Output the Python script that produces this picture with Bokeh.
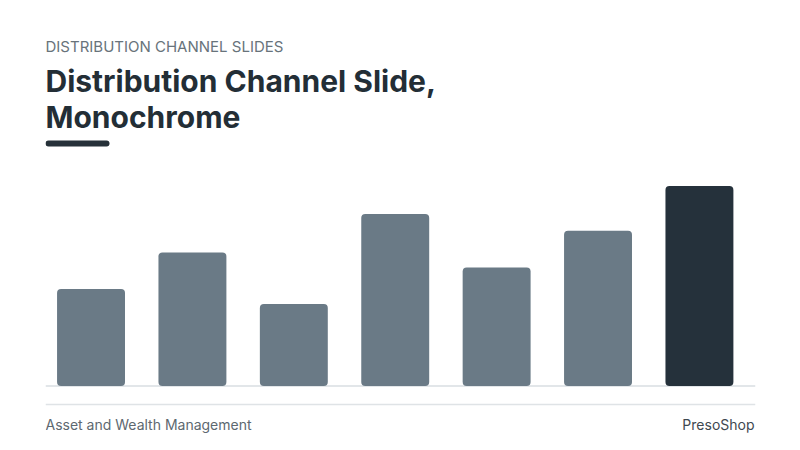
from bokeh.plotting import figure
from bokeh.models import Range1d, Label, Span, BoxAnnotation, ColumnDataSource
from bokeh.embed import file_html
from bokeh.resources import INLINE

# ---- data ----
categories = ["Channel 1", "Channel 2", "Channel 3", "Channel 4", "Channel 5", "Channel 6", "Channel 7"]
values = [48.5, 66.8, 41.0, 86.0, 59.3, 77.6, 100.0]
highlight = [False, False, False, False, False, False, True]

kicker = "DISTRIBUTION CHANNEL SLIDES"
title_lines = ["Distribution Channel Slide,", "Monochrome"]
footer_left = "Asset and Wealth Management"
footer_right = "PresoShop"

BAR = "#6a7a86"
BAR_HI = "#25313b"
colors = [BAR_HI if h else BAR for h in highlight]
xs = list(range(len(categories)))

src = ColumnDataSource(dict(x=xs, top=values, color=colors, cat=categories))

p = figure(width=784, height=434, output_backend="svg", toolbar_location=None,
           x_range=Range1d(-0.449, 6.553), y_range=Range1d(-24.25, 192.75),
           min_border_left=45, min_border_right=29, min_border_top=0, min_border_bottom=0,
           x_axis_location=None, y_axis_location=None)
p.outline_line_color = None
p.grid.visible = False
p.background_fill_color = "white"
p.border_fill_color = "white"

# baseline
p.add_layout(Span(location=0, dimension="width", line_color="#e2e6e9", line_width=2, level="underlay"))

# separator line above the footer
p.add_layout(BoxAnnotation(left=0, right=710, bottom=29.2, top=30.8,
                           left_units="screen", right_units="screen",
                           bottom_units="screen", top_units="screen",
                           fill_color="#dfe3e6", fill_alpha=1, line_color=None))

p.vbar(x="x", top="top", bottom=0, width=0.67, color="color", line_color=None,
       border_radius=4, source=src)

FONT = "Inter"
p.add_layout(Label(x=0, y=388, x_units="screen", y_units="screen", text=kicker,
                   text_font=FONT, text_font_size="15px", text_color="#68737b",
                   text_baseline="middle"))
p.add_layout(Label(x=0, y=353.5, x_units="screen", y_units="screen", text=title_lines[0],
                   text_font=FONT, text_font_size="30px", text_font_style="bold",
                   text_color="#232e36", text_baseline="middle"))
p.add_layout(Label(x=0, y=317.7, x_units="screen", y_units="screen", text=title_lines[1],
                   text_font=FONT, text_font_size="30px", text_font_style="bold",
                   text_color="#232e36", text_baseline="middle"))
p.add_layout(BoxAnnotation(left=0, right=64, bottom=288, top=294,
                           left_units="screen", right_units="screen",
                           bottom_units="screen", top_units="screen",
                           fill_color="#263139", fill_alpha=1, line_color=None,
                           border_radius=3))
p.add_layout(Label(x=0, y=10, x_units="screen", y_units="screen", text=footer_left,
                   text_font=FONT, text_font_size="14px", text_color="#5d6870",
                   text_baseline="middle"))
p.add_layout(Label(x=709, y=10, x_units="screen", y_units="screen", text=footer_right,
                   text_font=FONT, text_font_size="14px", text_color="#3e4850",
                   text_align="right", text_baseline="middle"))

open("out.html", "w").write(file_html(p, INLINE))
